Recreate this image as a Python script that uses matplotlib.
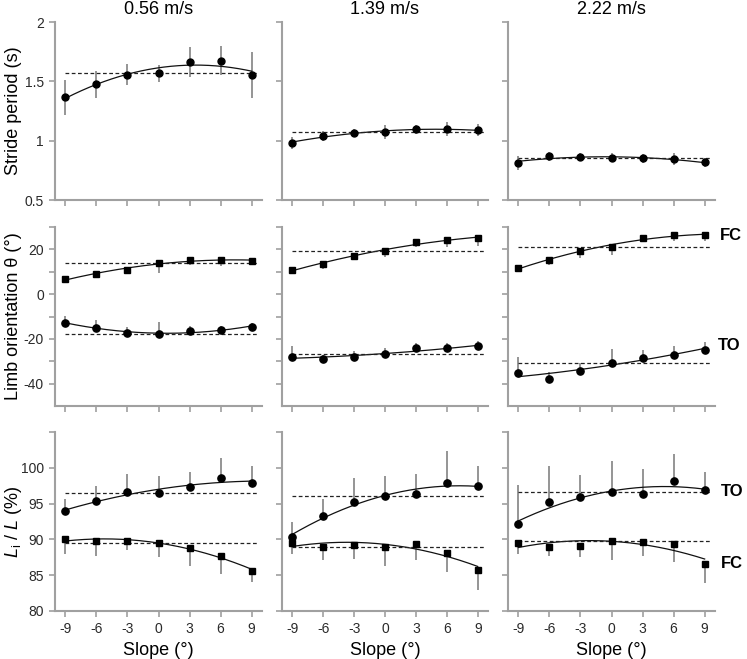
import numpy as np
import matplotlib.pyplot as plt

plt.rcParams['font.family'] = ['Liberation Sans', 'DejaVu Sans']
plt.rcParams['mathtext.fontset'] = 'custom'
plt.rcParams['mathtext.rm'] = 'Liberation Sans'
plt.rcParams['mathtext.it'] = 'Liberation Sans:italic'

slopes = [-9, -6, -3, 0, 3, 6, 9]
speeds = ['0.56 m/s', '1.39 m/s', '2.22 m/s']

# Stride period (s)
stride = [[1.365, 1.475, 1.556, 1.567, 1.663, 1.674, 1.553],
          [0.983, 1.039, 1.067, 1.070, 1.096, 1.098, 1.087],
          [0.815, 0.868, 0.862, 0.857, 0.851, 0.843, 0.817]]
stride_err = [[0.15, 0.115, 0.09, 0.07, 0.13, 0.12, 0.19],
              [0.05, 0.04, 0.03, 0.06, 0.04, 0.06, 0.05],
              [0.06, 0.04, 0.03, 0.04, 0.04, 0.05, 0.04]]

# Limb orientation (deg)
theta_fc = [[6.7, 9.0, 11.0, 13.7, 15.2, 15.4, 14.9],
            [10.9, 13.4, 17.2, 19.4, 23.1, 24.0, 25.2],
            [11.6, 15.2, 19.3, 21.2, 25.2, 26.3, 26.3]]
theta_fc_err = [[1.5, 1.2, 1.2, 4.2, 2.0, 3.0, 2.0],
                [2.0, 2.0, 2.0, 3.0, 2.0, 3.0, 3.5],
                [1.5, 2.0, 3.0, 3.5, 2.0, 2.5, 2.5]]
theta_to = [[-12.7, -15.1, -17.3, -17.9, -16.4, -16.1, -14.5],
            [-27.9, -29.0, -28.1, -26.6, -24.3, -24.2, -23.4],
            [-35.2, -38.1, -34.2, -30.6, -28.5, -27.0, -24.8]]
theta_to_err = [[3.0, 3.5, 2.5, 5.5, 2.0, 2.0, 1.5],
                [4.5, 2.0, 2.5, 2.5, 2.5, 2.5, 2.5],
                [7.0, 3.5, 3.5, 6.0, 3.5, 4.0, 3.5]]

# Limb length ratio Li/L (%)
len_to = [[94.0, 95.4, 96.6, 96.5, 97.3, 98.6, 97.9],
          [90.4, 93.3, 95.2, 96.0, 96.3, 97.9, 97.4],
          [92.1, 95.2, 95.9, 96.6, 96.4, 98.1, 96.9]]
len_to_err = [[1.6, 2.05, 2.5, 2.4, 2.1, 2.7, 2.4],
              [2.1, 2.4, 3.4, 2.8, 2.9, 4.4, 2.8],
              [5.5, 5.1, 3.1, 4.4, 3.4, 3.8, 2.5]]
len_fc = [[90.0, 89.8, 89.8, 89.5, 88.8, 87.7, 85.6],
          [89.5, 89.0, 89.2, 89.0, 89.4, 88.1, 85.7],
          [89.5, 88.95, 89.1, 89.8, 89.7, 89.4, 86.5]]
len_fc_err = [[2.05, 2.1, 1.3, 1.9, 2.5, 2.6, 1.6],
              [1.5, 1.9, 2.0, 2.7, 2.3, 2.6, 2.75],
              [1.5, 1.3, 1.5, 2.65, 2.0, 2.5, 2.65]]

SPINE = '#a0a0a0'
ERRC = '#8c8c8c'

fig = plt.figure(figsize=(7.47, 6.59), dpi=100)
W, H = 747.0, 659.0
cols_px = [(55, 262), (282, 488), (508, 715)]
rows_px = [(22, 200), (227, 406), (432, 611)]

axes = []
for r, (y0, y1) in enumerate(rows_px):
    row = []
    for c, (x0, x1) in enumerate(cols_px):
        ax = fig.add_axes([x0 / W, 1 - y1 / H, (x1 - x0) / W, (y1 - y0) / H])
        row.append(ax)
    axes.append(row)


def style(ax):
    for s in ['top', 'right']:
        ax.spines[s].set_visible(False)
    for s in ['left', 'bottom']:
        ax.spines[s].set_color(SPINE)
        ax.spines[s].set_linewidth(1.5)
    ax.tick_params(direction='out', length=4, width=1.2, color=SPINE,
                   labelsize=10, labelcolor='#2a2a2a', pad=4)
    ax.set_xlim(-10, 10)
    ax.set_xticks(slopes)


def series(ax, y, err, marker, ms, side='both'):
    y = np.asarray(y, float)
    e = np.asarray(err, float)
    if side == 'both':
        yerr = [e, e]
    elif side == 'up':
        yerr = [np.zeros_like(e), e]
    else:
        yerr = [e, np.zeros_like(e)]
    ax.errorbar(slopes, y, yerr=yerr, fmt='none', ecolor=ERRC,
                elinewidth=1.3, capsize=0, zorder=1)
    xs = np.linspace(-9, 9, 200)
    p = np.polyfit(slopes, y, 2)
    ax.plot(xs, np.polyval(p, xs), color='#111111', lw=0.9, zorder=2)
    y0 = y[slopes.index(0)]
    ax.plot([-9, 9.6], [y0, y0], color='#222222', lw=0.9,
            dashes=(3, 2), zorder=2)
    ax.plot(slopes, y, marker, color='black', ms=ms, ls='none', zorder=3)


for c in range(3):
    # top row
    ax = axes[0][c]
    style(ax)
    series(ax, stride[c], stride_err[c], 'o', 5, 'both')
    ax.set_ylim(0.5, 2)
    ax.set_yticks([0.5, 1, 1.5, 2])
    ax.set_yticklabels(['0.5', '1', '1.5', '2'] if c == 0 else [])
    ax.set_xticklabels([])
    ax.set_title(speeds[c], fontsize=13, pad=6)

    # middle row
    ax = axes[1][c]
    style(ax)
    series(ax, theta_fc[c], theta_fc_err[c], 's', 5, 'down')
    series(ax, theta_to[c], theta_to_err[c], 'o', 5.2, 'up')
    ax.set_ylim(-50, 30)
    ticks = [-40, -30, -20, -10, 0, 10, 20, 30]
    ax.set_yticks(ticks)
    if c == 0:
        ax.set_yticklabels([str(t) if t in (-40, -20, 0, 20) else '' for t in ticks])
    else:
        ax.set_yticklabels([])
    ax.set_xticklabels([])

    # bottom row
    ax = axes[2][c]
    style(ax)
    series(ax, len_to[c], len_to_err[c], 'o', 5.2, 'up')
    series(ax, len_fc[c], len_fc_err[c], 's', 5, 'down')
    ax.set_ylim(80, 105)
    ticks = [80, 85, 90, 95, 100, 105]
    ax.set_yticks(ticks)
    if c == 0:
        ax.set_yticklabels([str(t) if t <= 100 else '' for t in ticks])
    else:
        ax.set_yticklabels([])
    ax.set_xticklabels([str(s) for s in slopes])
    ax.set_xlabel('Slope (°)', fontsize=13, labelpad=4)

# y labels
ylabels = ['Stride period (s)', 'Limb orientation θ (°)', r'$L_{\mathrm{i}}$ / $L$ (%)']
for r, (y0, y1) in enumerate(rows_px):
    fig.text(14 / W, 1 - (y0 + y1) / 2 / H, ylabels[r], rotation=90,
             ha='center', va='center', fontsize=13)

# FC / TO labels
fig.text(731 / W, 1 - 235 / H, 'FC', ha='center', va='center', fontsize=12, fontweight='bold')
fig.text(729 / W, 1 - 345 / H, 'TO', ha='center', va='center', fontsize=12, fontweight='bold')
fig.text(732 / W, 1 - 492 / H, 'TO', ha='center', va='center', fontsize=12, fontweight='bold')
fig.text(732 / W, 1 - 564 / H, 'FC', ha='center', va='center', fontsize=12, fontweight='bold')

fig.savefig('out.png', dpi=100)
